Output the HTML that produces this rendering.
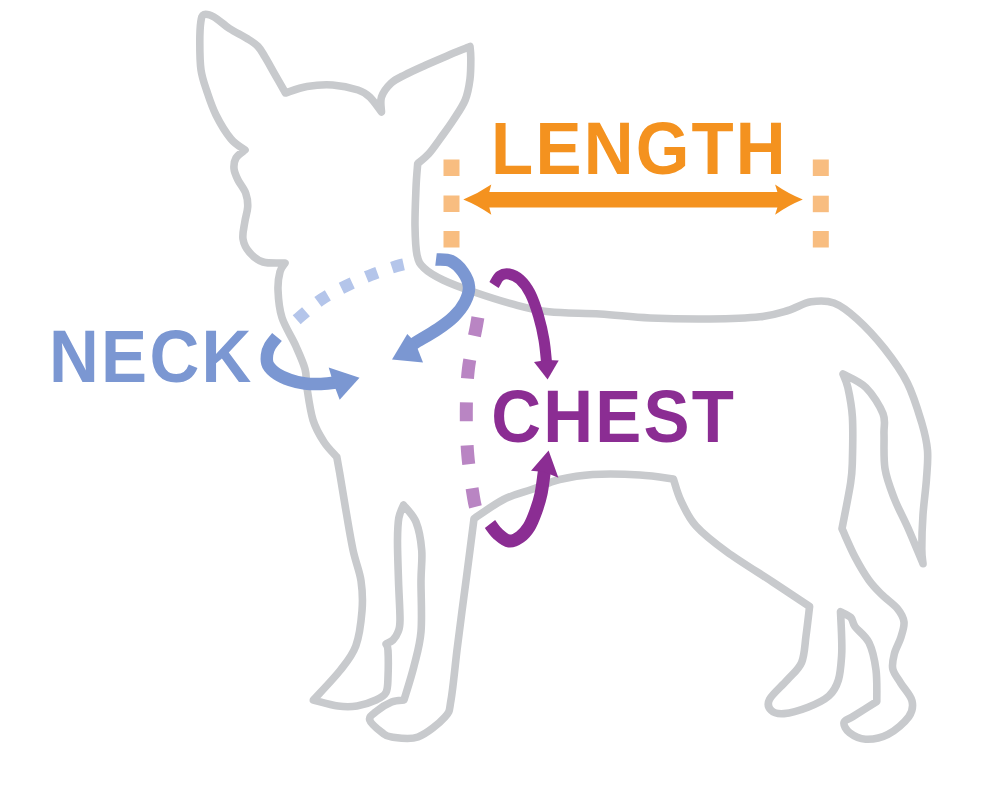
<!DOCTYPE html>
<html><head><meta charset="utf-8"><style>
html,body{margin:0;padding:0;background:#fff;}
svg{display:block;}
</style></head><body>
<svg width="1000" height="786" viewBox="0 0 1000 786">
<rect width="1000" height="786" fill="#fff"/>
<g fill="#f8bd80">
<rect x="443.5" y="159.5" width="16" height="16.5"/><rect x="443.5" y="195.5" width="16" height="16.5"/><rect x="443.5" y="231" width="16" height="16.5"/>
<rect x="812.8" y="159.5" width="16" height="16.5"/><rect x="812.8" y="195.7" width="16" height="16.5"/><rect x="812.8" y="231" width="16" height="16.5"/>
</g>
<path d="M480 304C479.4 307.5 478.5 314.2 476.6 325C474.7 335.8 470.1 354.6 468.4 369C466.7 383.4 466.4 397.2 466.3 411.5C466.2 425.8 466.6 440.6 467.8 455C469 469.4 472.1 488.3 473.6 497.8C475.1 507.3 476.4 509.6 477 512" fill="none" stroke="#b985c3" stroke-width="13" stroke-dasharray="19 24" stroke-dashoffset="-13.5"/>
<path d="M290 326C291.8 324.3 295.7 320.5 301 316C306.3 311.5 314.5 304 322 299C329.5 294 337.8 290 346 286C354.2 282 362.5 278.3 371 275C379.5 271.7 390.5 268 397 266C403.5 264 407.8 263.5 410 263" fill="none" stroke="#b4c5ea" stroke-width="12" stroke-dasharray="12 15.3" stroke-dashoffset="-9.5"/>
<path d="M204 14.5C206.2 13.7 209.7 14.7 214 17C218.3 19.4 224.1 25 229.6 28.6C235.1 32.2 242.3 35.5 247 38.5C251.7 41.5 255 43.4 258 46.5C261 49.6 262.3 52.6 265 57C267.7 61.4 270.6 66.8 274 72.8C277.4 78.8 283.6 89.6 285.5 93C289.1 91.9 299.1 87.8 307 86.5C314.9 85.2 324.2 84.4 332.7 85C341.2 85.6 351.8 88 358 90C364.2 92 366.1 93.5 370 97.2C373.9 100.9 379.6 109.5 381.5 112C381.5 109.5 379.9 101.8 381.5 97C383.1 92.2 387.1 86.9 391 83.2C394.9 79.5 399.2 77.8 405 74.8C410.8 71.8 419 68.2 426 65C433 61.9 439.7 59 447 55.9C454.3 52.8 466.2 48.1 470 46.5C470.1 48.4 470.8 52.6 470.8 58C470.8 63.4 470.9 72 470 79C469.1 86 468 93.1 465.2 100C462.4 106.9 457.3 113.9 453 120.5C448.7 127.1 443.5 134 439.5 139.6C435.5 145.2 432.4 149.8 428.8 153.8C425.2 157.8 419.6 162 417.7 163.6C417.4 167.7 416.4 177.6 416 188C415.6 198.4 414.8 214.8 415 226C415.2 237.2 415.5 248 417 255C418.5 262 419.7 263.8 424 268C428.3 272.2 434.7 276 443 280C451.3 284 462.3 288 474 292C485.7 296 500.5 300.9 513 304.2C525.5 307.5 534.5 310.2 549 311.8C563.5 313.4 583.2 313 600 314C616.8 315 631.7 317.2 650 318C668.3 318.8 691.7 319.2 710 319C728.3 318.8 747 318.2 760 316.8C773 315.4 779.5 313 788 310.5C796.5 308 803.3 303.1 811 301.8C818.7 300.6 826.3 300.1 834 303C841.7 305.9 848.6 311.4 857 319C865.4 326.6 876.1 338 884.5 348.7C892.9 359.4 901.2 370.6 907.4 383C913.6 395.4 918.4 411.8 921.8 423C925.1 434.2 926.7 440.9 927.5 450.4C928.3 459.9 927.1 469.3 926.4 480C925.6 490.7 923.8 503 923 514.5C922.2 526 921.8 540.6 921.8 548.8C921.8 557 922.8 561.2 923 563.7C920.5 557.8 912.8 538.9 908 528C903.2 517.1 898.1 508.4 894.3 498.5C890.5 488.6 886.7 479.4 885 468.7C883.3 457.9 884.3 443.2 884 434C883.7 424.8 886 421.4 883 413.7C880 406 872.7 394.2 866 387.6C859.3 381 846.8 376.3 843 374C843.8 376.3 846.3 380.4 847.9 387.6C849.5 394.8 851.6 404.9 852.4 417C853.1 429.1 852.7 449 852.4 460C852.1 471 852.3 471.6 850.6 483C848.9 494.4 843.4 521.1 842 528.7C844.2 533.4 850.5 548.5 855 557C859.5 565.5 864.4 573.8 868.8 580C873.2 586.2 876.8 589.6 881.6 594.4C886.4 599.2 893.9 604.2 897.6 608.8C901.3 613.4 903.5 617.2 904 622C904.5 626.8 902.4 632.3 900.8 637.6C899.2 642.9 895.7 648.4 894.4 653.6C893.1 658.8 891.7 664.1 892.8 669C893.9 673.9 897.6 677.9 900.8 683.2C904 688.5 910.7 695.2 912 700.8C913.3 706.4 912.8 711.2 908.8 716.8C904.8 722.4 895.2 730.7 888 734.4C880.8 738.1 872 739.5 865.6 739.2C859.2 738.9 853.2 735.6 849.6 732.8C846 730 843.4 725.2 844 722.5C844.6 719.8 847.5 720 853 716.5C858.5 713 872.8 704 876.8 701.5C876.7 696.2 877.3 679.8 876 670C874.7 660.2 872.5 649.9 869 642.7C865.5 635.5 858 630.8 855 626.6C852 622.4 853.2 620 850.8 617.5C848.4 615 842.2 612.8 840.5 611.8C840.7 615.8 841.4 628.6 841.6 636C841.8 643.4 842.1 648.7 841.6 656C841.1 663.3 840.5 673.3 838.4 680C836.3 686.7 833.9 691.5 828.8 696C823.7 700.5 815.5 704.3 808 707.2C800.5 710.1 790.1 713.1 784 713.6C777.9 714.1 773.6 712.8 771.2 710.4C768.8 708 766.9 704.3 769.6 699.2C772.3 694.1 781.9 686.1 787.2 680C792.5 673.9 798.5 669.7 801.6 662.4C804.7 655.1 804.7 645.3 806 636C807.3 626.7 809 611.4 809.6 606.5C803.5 602.4 786.5 591.1 772.7 582C758.9 572.9 739.8 561.3 727 552C714.2 542.7 703.7 534.5 696 526C688.3 517.5 684.8 508.8 681 501C677.2 493.2 674.7 482.7 673.4 479C667.8 478.3 653.5 475.8 640 475C626.5 474.2 606.1 473.8 592.7 474.5C579.3 475.2 569.8 477 559.6 479.5C549.4 482 540.9 486.2 531.6 489.5C522.3 492.8 513.2 494.6 503.6 499.5C494 504.4 478.9 515.5 474 518.7C472.8 528.4 468.5 561.6 466.5 577C464.5 592.4 463.6 598.8 462 611C460.4 623.2 458.8 635.2 457 650C455.2 664.8 453 688.8 451 700C449 711.2 450.5 710.8 445 717C439.5 723.2 426.9 733.7 418 737C409.1 740.3 397.6 737.7 391.6 737C385.6 736.3 385.6 735.4 382 732.6C378.4 729.8 370.7 723.5 369.7 720C368.7 716.5 372.4 714.6 376 711.6C379.6 708.6 386.9 703.9 391.6 702C396.3 700.1 401.9 700.3 404 700C405.7 694.3 411.2 677.4 414 666C416.8 654.6 419.8 645.8 421 631.6C422.2 617.4 420.9 594.3 421 580.7C421.1 567.1 422.5 559.8 421.7 550C420.9 540.2 419 529.5 416 522C413 514.5 405.6 507.8 403.5 505C402.7 507.2 399.8 512.2 398.8 518C397.8 523.8 397.6 529.5 397.5 540C397.4 550.5 398.1 567.4 398.5 580.7C398.9 594 400.1 611.5 400 620C399.9 628.5 399.2 628.7 398 632C396.8 635.3 395 638 393 640C391 642 387.2 643.3 386 644C386.3 645.1 387.7 645 388 650.5C388.3 656 388.3 670 388 677C387.7 684 388 688.7 386 692.5C384 696.3 380.8 697.8 376 700C371.2 702.2 363.3 705 357 706C350.7 707 345.3 707 338 706C330.7 705 317.5 701 313.4 700C317.9 695 333.4 679 340.5 670C347.6 661 352.2 655.8 355.8 646C359.4 636.2 361.1 621.9 362 611C362.9 600.1 362.5 590.9 361 580.7C359.5 570.5 355.7 562.6 353 550C350.3 537.4 347.2 517.9 345 505C342.8 492.1 341 480.5 339.6 472.5C338.2 464.5 337.3 459.6 336.8 457C334.7 454.5 328 448.2 324 442C320 435.8 315.8 429 313 420C310.2 411 308.3 396.5 307 388C305.7 379.5 306.9 376 305 369C303.1 362 299.6 354.6 295.8 346C292 337.4 285 327 282 317.7C279 308.4 278.3 297.7 278 290C277.7 282.3 278.8 276.2 280 271.7C281.2 267.2 284.2 264.4 285 263C281.3 262.8 268.9 263.7 263 262C257.1 260.3 252.9 256.4 249.6 252.6C246.3 248.8 243.8 244.1 243 239C242.2 233.9 244 227.4 244.8 222C245.6 216.6 247.5 211.6 247.7 206.8C247.9 202 247.4 197.9 245.8 193.4C244.2 188.9 240 184.1 238 180C236 175.9 234.3 172.3 234 168.6C233.7 164.9 234.2 161.1 236 158C237.8 154.9 243.5 151.3 245 150C242.7 148.2 235.8 144.8 231 139C226.2 133.2 220 123 216 115C212 107 209.3 98.5 206.8 91C204.3 83.5 202.2 78.2 201 70C199.8 61.8 199.8 50 199.8 42C199.8 34 200.1 26.6 200.8 22C201.5 17.4 201.8 15.3 204 14.5Z" fill="none" stroke="#c8cacd" stroke-width="7.6" stroke-linejoin="round"/>
<path d="M463.3 199.5 Q478 193.5 491.3 184.5 L489.3 192 L777.4 192 L775.1 184.5 Q788 193.5 802.8 199.5 Q788 205.5 775.1 214.8 L777.4 207.4 L489.3 207.4 L491.3 214.8 Q478 205.5 463.3 199.5Z" fill="#f4921f"/>
<g fill="none" stroke-width="12.5" stroke-linecap="butt">
<path d="M277 337C275.8 338.5 271.7 343 270 346C268.3 349 267.3 351.8 267 355C266.7 358.2 266.3 361.8 268 365C269.7 368.2 273.3 371.5 277 374C280.7 376.5 285.3 378.4 290 380C294.7 381.6 299.8 382.8 305 383.5C310.2 384.2 315.8 384.2 321 384C326.2 383.8 332.3 383 336 382.5C339.7 382 341.8 381.2 343 381" stroke="#7b97d2"/>
<path d="M436 259.5C438.5 259.8 446.5 258.9 451 261C455.5 263.1 460 267.7 463 272C466 276.3 468.7 282 469 287C469.3 292 467.5 297.1 465 302C462.5 306.9 458.5 312 454 316.5C449.5 321 444.5 324.6 438 329C431.5 333.4 419.8 340 415 343C410.2 346 410 346.3 409 347" stroke="#7b97d2"/>
</g>
<g fill="none" stroke-linecap="butt">
<path d="M494 285C495 283.5 497.5 277.8 500 276C502.5 274.2 505.7 273.4 509 274C512.3 274.6 516.5 276.3 520 279.5C523.5 282.7 526.9 286.9 530 293C533.1 299.1 536.2 308.2 538.5 316C540.8 323.8 542.7 332.3 544 340C545.3 347.7 546 357.3 546.5 362C547 366.7 547.1 367 547.2 368" stroke="#8b2d93" stroke-width="11"/>
<path d="M490 524C491.3 525.7 494.8 531.2 498 534C501.2 536.8 505.3 540.5 509 541C512.7 541.5 516.7 539.3 520 537C523.3 534.7 526.3 531.3 529 527C531.7 522.7 534 516.5 536 511C538 505.5 539.7 500.2 541 494C542.3 487.8 543.3 478.7 544 474C544.7 469.3 544.8 467.3 545 466" stroke="#8b2d93" stroke-width="13"/>
</g>
<path d="M359.5 377.8 L328.7 367.4 L333 382 L339.7 399.8Z" fill="#7b97d2"/><path d="M392 359.5 L407.3 334 L415 342 L423 362.6Z" fill="#7b97d2"/>
<path d="M547.6 379.6 L534 362 L547 360 L558.7 360.6Z" fill="#8b2d93"/><path d="M548.6 450.5 L531 470.8 L544.5 472 L558.4 477.8Z" fill="#8b2d93"/>
<g font-family="Liberation Sans, sans-serif" font-weight="bold" font-size="69">
<text transform="translate(491.1 173.5) scale(1 1.074)" letter-spacing="2.2" fill="#f4921f">LENGTH</text>
<text transform="translate(49 381.5) scale(1 1.074)" letter-spacing="2.3" fill="#7b97d2">NECK</text>
<text transform="translate(491.2 441.5) scale(1 1.074)" letter-spacing="2.25" fill="#8b2d93">CHEST</text>
</g>
</svg>
</body></html>
